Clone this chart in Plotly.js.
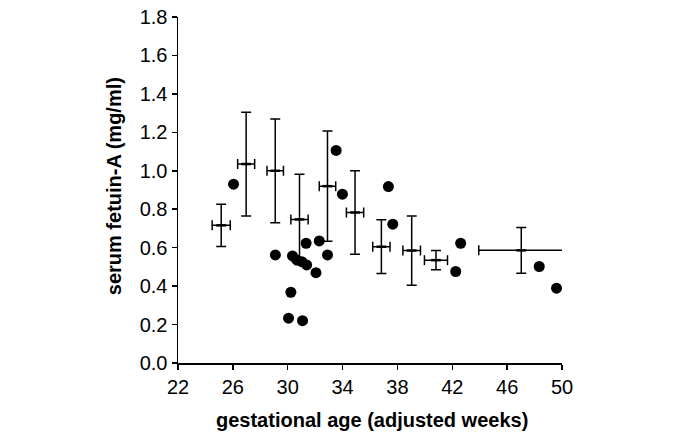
<!DOCTYPE html>
<html>
<head>
<meta charset="utf-8">
<script src="https://cdn.plot.ly/plotly-3.0.1.min.js"></script>
<style>html,body{margin:0;padding:0;background:#fff}#chart{width:675px;height:432px}</style>
</head>
<body>
<div id="chart"></div>
<script>
// Group means (with error bars)
var meanAge = [25.15, 26.97, 29.09, 30.86, 32.9, 34.91, 36.83, 39.04, 40.81, 47.03];
var meanFetuin = [0.716, 1.035, 1.0, 0.747, 0.92, 0.783, 0.605, 0.585, 0.535, 0.586];
var fetuinErr = [0.11, 0.27, 0.27, 0.235, 0.287, 0.217, 0.14, 0.18, 0.05, 0.119];
var ageErr = [0.66, 0.62, 0.6, 0.63, 0.6, 0.63, 0.63, 0.64, 0.84, 3.1];

// Individual measurements
var indivAge = [26.05, 29.1, 30.23, 30.06, 31.08, 30.35, 30.66, 31.03, 31.38, 32.06, 31.34, 32.3, 32.9, 33.53, 33.99, 37.34, 37.66, 42.61, 42.25, 48.34, 49.6];
var indivFetuin = [0.93, 0.5625, 0.368, 0.233, 0.22, 0.557, 0.536, 0.527, 0.51, 0.47, 0.623, 0.635, 0.5625, 1.106, 0.878, 0.918, 0.722, 0.623, 0.476, 0.502, 0.389];

var xTicks = [22, 26, 30, 34, 38, 42, 46, 50];
var yTicks = [0, 0.2, 0.4, 0.6, 0.8, 1.0, 1.2, 1.4, 1.6, 1.8];

var font = 'Liberation Sans, Arial, Helvetica, sans-serif';

var traces = [
  {
    x: meanAge, y: meanFetuin, type: 'scatter', mode: 'markers',
    marker: {symbol: 'line-ew', size: 7, color: '#000', line: {color: '#000', width: 2.5}},
    error_y: {type: 'data', array: fetuinErr, visible: true, color: '#000', thickness: 1.5, width: 5},
    error_x: {type: 'data', array: ageErr, visible: true, color: '#000', thickness: 1.5, width: 5},
    hoverinfo: 'x+y', showlegend: false
  },
  {
    x: indivAge, y: indivFetuin, type: 'scatter', mode: 'markers',
    marker: {symbol: 'circle', size: 11, color: '#000'},
    showlegend: false
  }
];

var layout = {
  width: 675, height: 432,
  margin: {l: 177.7, r: 113, t: 17, b: 69},
  paper_bgcolor: '#fff', plot_bgcolor: '#fff',
  font: {family: font, size: 20, color: '#000'},
  showlegend: false,
  xaxis: {
    range: [22, 50], tickvals: xTicks, ticktext: xTicks.map(String),
    showgrid: false, zeroline: false, showline: true, linecolor: '#000', linewidth: 1.5,
    ticks: 'outside', ticklen: 5, tickwidth: 1.5, tickcolor: '#000',
    tickfont: {family: font, size: 20, color: '#000'}
  },
  yaxis: {
    range: [0, 1.8], tickvals: yTicks, ticktext: yTicks.map(function(v){return v.toFixed(1);}),
    showgrid: false, zeroline: false, showline: true, linecolor: '#000', linewidth: 1.5,
    ticks: 'outside', ticklen: 5, tickwidth: 1.5, tickcolor: '#000',
    tickfont: {family: font, size: 20, color: '#000'}
  },
  annotations: [
    {text: '<b>gestational age (adjusted weeks)</b>', xref: 'paper', yref: 'paper',
     x: 0.5047, y: -0.165, xanchor: 'center', yanchor: 'middle', showarrow: false,
     font: {family: font, size: 20, color: '#000'}},
    {text: '<b>serum fetuin-A (mg/ml)</b>', xref: 'paper', yref: 'paper',
     x: -0.166, y: 0.5116, xanchor: 'center', yanchor: 'middle', showarrow: false, textangle: -90,
     font: {family: font, size: 20, color: '#000'}}
  ]
};

Plotly.newPlot('chart', traces, layout, {displayModeBar: false, staticPlot: true});
</script>
</body>
</html>
